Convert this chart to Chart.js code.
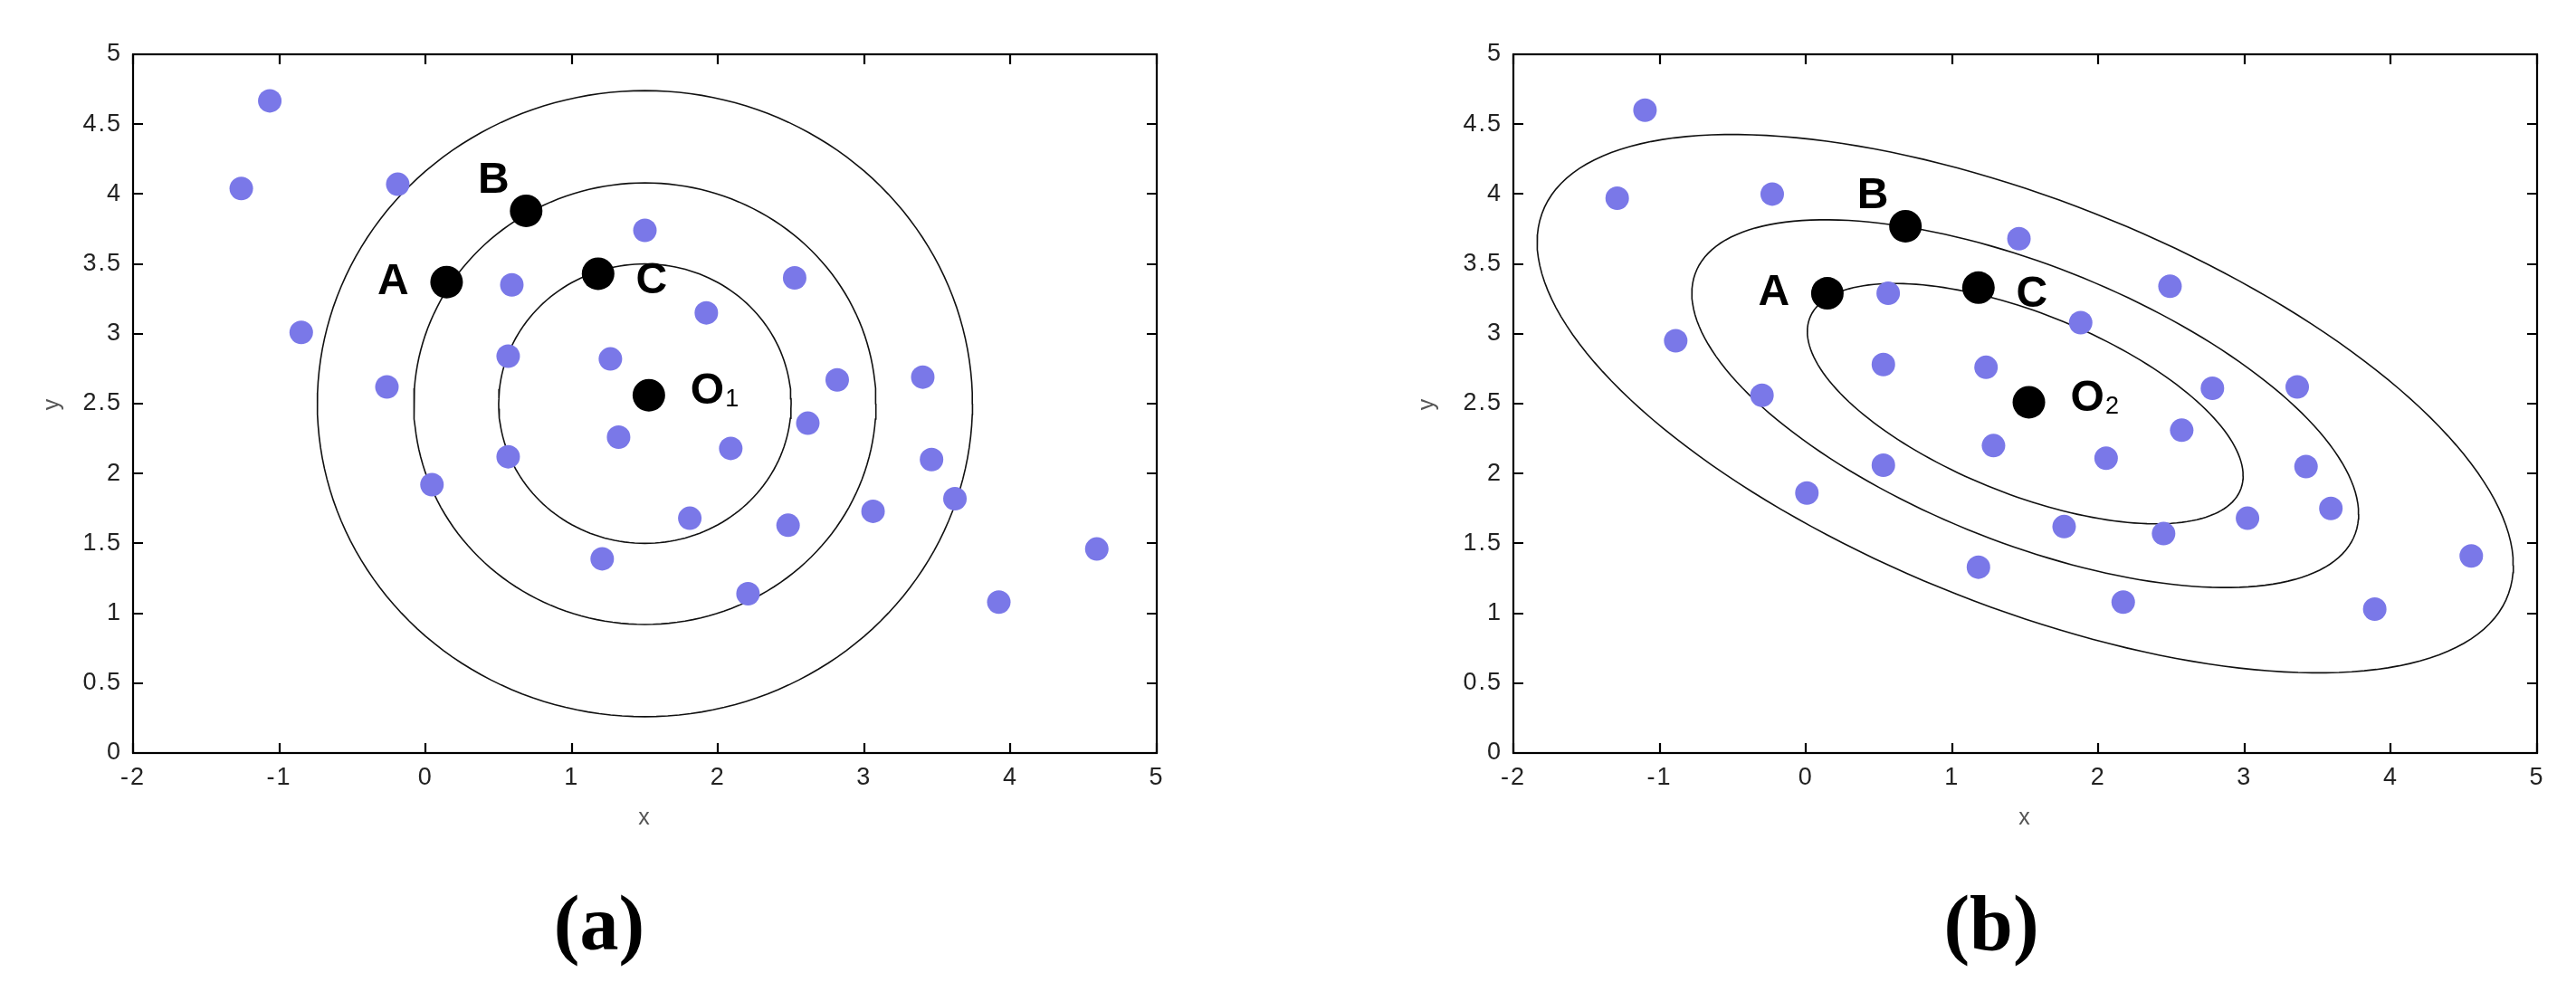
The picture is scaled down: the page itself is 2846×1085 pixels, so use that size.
<!DOCTYPE html>
<html><head><meta charset="utf-8">
<script src="https://cdn.jsdelivr.net/npm/chart.js@4.4.1/dist/chart.umd.min.js"></script>
<style>
html,body{margin:0;padding:0;background:#fff;width:2846px;height:1085px;overflow:hidden;}
canvas{position:absolute;top:0;}
.cap{position:absolute;top:1020px;font-family:'Liberation Serif','Times New Roman',serif;font-weight:bold;font-size:86px;line-height:1;transform:translate(-50%,-50%);color:#000;}
</style></head><body>
<canvas id="ca" width="1423" height="1085" style="left:0"></canvas>
<canvas id="cb" width="1423" height="1085" style="left:1423px"></canvas>
<div class="cap" style="left:662px">(a)</div>
<div class="cap" style="left:2200px">(b)</div>
<script>
// ---------- data ----------
const xRange = [-2, 5];
const yRange = [0, 5];
const xStep = 1;
const yStep = 0.5;

// panel (a): Euclidean distance
const pointsAX = [-1.065,-1.26,-0.19,-0.85,-0.264,0.044,0.59,0.565,0.565,1.50,1.264,1.32,1.92,2.087,1.807,1.208,2.524,2.815,2.614,2.479,2.205,3.06,3.40,3.46,3.62,3.92,4.59];
const pointsAY = [4.667,4.04,4.07,3.01,2.62,1.92,3.35,2.84,2.12,3.74,2.82,2.26,3.15,2.18,1.68,1.39,3.40,2.67,2.36,1.63,1.14,1.73,2.69,2.10,1.82,1.08,1.46];
const keyNamesA = ['A','B','C','O1'];
const keyAX = [0.144,0.688,1.18,1.527];
const keyAY = [3.37,3.88,3.43,2.56];

// panel (b): Mahalanobis distance
const pointsBX = [-1.10,-1.29,-0.23,-0.89,-0.30,0.007,0.563,0.53,0.53,1.457,1.232,1.283,1.879,2.053,1.766,1.18,2.49,2.78,2.57,2.446,2.17,3.02,3.36,3.42,3.59,3.89,4.55];
const pointsBY = [4.60,3.97,4.00,2.95,2.56,1.86,3.29,2.78,2.06,3.68,2.76,2.20,3.08,2.11,1.62,1.33,3.34,2.61,2.31,1.57,1.08,1.68,2.62,2.05,1.75,1.03,1.41];
const keyNamesB = ['A','B','C','O2'];
const keyBX = [0.147,0.681,1.18,1.525];
const keyBY = [3.29,3.77,3.33,2.51];

// contour shapes (centre, distance levels, spread, correlation)
const contourCenter = [1.5, 2.5];
const contourLevelsA = [1, 1.58, 2.24];
const contourLevelsB = [1, 1.53, 2.24];
const spreadA = [1, 1];
const rhoA = 0;
const spreadB = [1.49, 0.86];
const rhoB = -0.6;
// ---------------------------------------------------

function contourPath(level, spread, rho){
  const pts = [];
  const n = 180;
  for (let i = 0; i <= n; i++){
    const t = 2*Math.PI*i/n;
    const c = Math.cos(t), s = Math.sin(t);
    pts.push({
      x: contourCenter[0] + level*spread[0]*c,
      y: contourCenter[1] + level*spread[1]*(rho*c + Math.sqrt(1-rho*rho)*s)
    });
  }
  return pts;
}
function zip(xs, ys){ return xs.map((v,i)=>({x:v, y:ys[i]})); }

const DOT = '#7a78e8';
const TICKFONT = {family:"'Liberation Sans', Arial, sans-serif", size:27};
const AXFONT = {family:"'Liberation Sans', Arial, sans-serif", size:25};

const framePlugin = {
  id:'frame',
  beforeDraw(chart){ chart.ctx.letterSpacing = '2px'; },
  beforeDatasetsDraw(chart){
    const {ctx, chartArea:{left,top,right,bottom}, scales:{x,y}} = chart;
    ctx.save();
    ctx.strokeStyle = '#000';
    ctx.lineWidth = 2.2;
    ctx.strokeRect(left, top, right-left, bottom-top);
    ctx.beginPath();
    const L = 11;
    x.ticks.forEach(t=>{
      const px = Math.round(x.getPixelForValue(t.value));
      ctx.moveTo(px, bottom); ctx.lineTo(px, bottom-L);
      ctx.moveTo(px, top); ctx.lineTo(px, top+L);
    });
    y.ticks.forEach(t=>{
      const py = Math.round(y.getPixelForValue(t.value));
      ctx.moveTo(left, py); ctx.lineTo(left+L, py);
      ctx.moveTo(right, py); ctx.lineTo(right-L, py);
    });
    ctx.stroke();
    ctx.restore();
  }
};

// label placement relative to each key point, in pixels
const labelOffsets = [[-59,0],[-36,-33],[59,8],[62,-4]];

function makeLabelPlugin(names){
  return {
    id:'keyLabels',
    afterDatasetsDraw(chart){
      const ctx = chart.ctx;
      const meta = chart.getDatasetMeta(chart.data.datasets.length-1);
      ctx.save();
      ctx.letterSpacing = '0px';
      ctx.fillStyle = '#000';
      ctx.textBaseline = 'middle';
      meta.data.forEach((el,i)=>{
        const name = names[i];
        const px = el.x + labelOffsets[i][0];
        const py = el.y + labelOffsets[i][1];
        ctx.font = "bold 48px 'Liberation Sans', Arial, sans-serif";
        if (name.length === 1){
          ctx.textAlign = 'center';
          ctx.fillText(name, px, py);
        } else {
          ctx.textAlign = 'left';
          const main = name[0], sub = name.slice(1);
          const w = ctx.measureText(main).width;
          ctx.fillText(main, px - 16, py);
          ctx.font = "27px 'Liberation Sans', Arial, sans-serif";
          ctx.fillText(sub, px - 16 + w + 1, py + 9);
        }
      });
      ctx.restore();
    }
  };
}

function makeChart(id, px, py, kx, ky, names, levels, spread, rho, cfg){
  const datasets = [];
  levels.forEach(lv=>{
    datasets.push({data: contourPath(lv, spread, rho), showLine:true, borderColor:'#111', borderWidth:1.6,
      pointRadius:0, pointHoverRadius:0, fill:false, order:3, tension:0});
  });
  datasets.push({data: zip(px, py), backgroundColor:DOT, borderWidth:0, pointRadius:13, pointHoverRadius:13, order:2});
  datasets.push({data: zip(kx, ky), backgroundColor:'#000', borderWidth:0, pointRadius:18, pointHoverRadius:18, order:1});

  return new Chart(document.getElementById(id), {
    type:'scatter',
    data:{datasets},
    options:{
      responsive:false, devicePixelRatio:1, animation:false,
      layout:{padding:{top:60, right:cfg.padRight, bottom:0, left:0}},
      plugins:{legend:{display:false}, tooltip:{enabled:false}},
      scales:{
        x:{
          type:'linear', min:xRange[0], max:xRange[1],
          ticks:{stepSize:xStep, color:'#222', font:TICKFONT, padding:11, maxRotation:0,
            callback:v=>String(Math.round(v*10)/10)},
          grid:{display:false, drawTicks:false}, border:{display:false},
          title:{display:true, text:'x', color:'#555', font:AXFONT, padding:{top:0,bottom:166}},
          afterFit(s){ s.height = 253; }
        },
        y:{
          type:'linear', min:yRange[0], max:yRange[1],
          ticks:{stepSize:yStep, color:'#222', font:TICKFONT, padding:12,
            callback:v=>String(Math.round(v*10)/10)},
          grid:{display:false, drawTicks:false}, border:{display:false},
          title:{display:true, text:'y', color:'#555', font:AXFONT, padding:{top:cfg.yTitlePad,bottom:0}},
          afterFit(s){ s.width = cfg.yWidth; }
        }
      }
    },
    plugins:[framePlugin, makeLabelPlugin(names)]
  });
}

makeChart('ca', pointsAX, pointsAY, keyAX, keyAY, keyNamesA, contourLevelsA, spreadA, rhoA, {padRight:145, yWidth:147, yTitlePad:43});
makeChart('cb', pointsBX, pointsBY, keyBX, keyBY, keyNamesB, contourLevelsB, spreadB, rhoB, {padRight:43, yWidth:249, yTitlePad:139});
</script>
</body></html>
